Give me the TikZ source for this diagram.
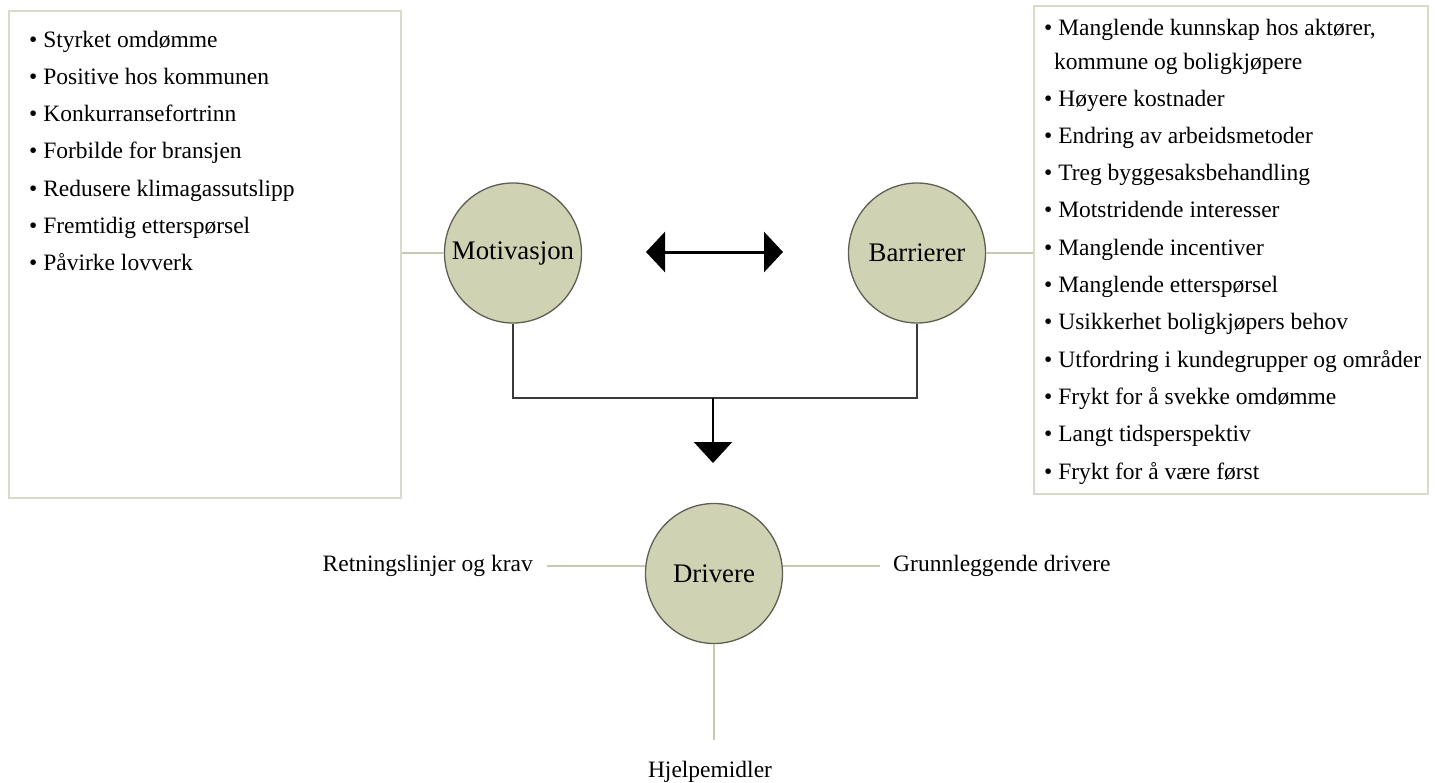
\documentclass[tikz,border=0pt]{standalone}
\usepackage{fontspec}
\setmainfont{Liberation Serif}
\usetikzlibrary{arrows.meta,shapes.geometric}
\definecolor{olivefill}{HTML}{D0D2B4}
\definecolor{olivedraw}{HTML}{5E5E52}
\definecolor{boxline}{HTML}{D9DBC8}
\definecolor{thinline}{HTML}{C6C9B2}
\definecolor{darkline}{HTML}{3A3A3A}

\begin{document}
\begin{tikzpicture}[x=1pt,y=-1pt,
  bubble/.style={ellipse, draw=olivedraw, fill=olivefill, line width=1.3pt,
    minimum width=137pt, minimum height=140pt, inner sep=0pt,
    font=\fontsize{26.8}{30}\selectfont},
  listbox/.style={draw=boxline, line width=2pt, fill=white, anchor=north west, inner sep=0pt},
  item/.style={anchor=base west, inner sep=0pt, font=\fontsize{23.5}{28}\selectfont},
  tag/.style={inner sep=0pt, font=\fontsize{23.5}{28}\selectfont},
  thin/.style={draw=thinline, line width=1.2pt},
  heavy/.style={draw=darkline, line width=2.2pt}
]
\useasboundingbox (0,0) rectangle (1435,782);

% list boxes
\node[listbox, minimum width=392pt, minimum height=487pt] (motbox) at (8,10) {};
\node[listbox, minimum width=394pt, minimum height=488pt] (barbox) at (1033,5) {};

% motivation items
\foreach \t [count=\i] in {Styrket omdømme, Positive hos kommunen, Konkurransefortrinn,
  Forbilde for bransjen, Redusere klimagassutslipp, Fremtidig etterspørsel, Påvirke lovverk}
  \node[item] (m\i) at (29, {47+37.3*(\i-1)}) {• \t};

% barrier items
\node[item] (b1) at (1044,35) {• Manglende kunnskap hos aktører,};
\node[item] (b1b) at (1054,69) {kommune og boligkjøpere};
\foreach \t [count=\i] in {Høyere kostnader, Endring av arbeidsmetoder, Treg byggesaksbehandling,
  Motstridende interesser, Manglende incentiver, Manglende etterspørsel,
  Usikkerhet boligkjøpers behov, Utfordring i kundegrupper og områder,
  Frykt for å svekke omdømme, Langt tidsperspektiv, Frykt for å være først}
  \node[item] (b\i x) at (1044, {106+37.3*(\i-1)}) {• \t};

% central bubbles
\node[bubble] (mot) at (513,253) {\makebox[0pt]{Motivasjon}};
\node[bubble] (bar) at (917,253) {\makebox[0pt]{Barrierer}};
\node[bubble] (drv) at (714,573.5) {\makebox[0pt]{Drivere}};

% links from bubbles to their lists
\draw[thin] (motbox.east |- mot.west) -- (mot.west);
\draw[thin] (bar.east) -- (barbox.west |- bar.east);

% two-way relation between motivation and barriers
\coordinate (al) at (646,252);
\coordinate (ar) at (783,252);
\draw[black, line width=3pt, {Triangle[width=40pt,length=19pt]}-{Triangle[width=40pt,length=19pt]}] (al) -- (ar);

% both lead down to the drivers
\coordinate (join) at (713,398);
\coordinate (tip) at (713,463);
\draw[heavy] (mot.south) |- (join) -| (bar.south);
\draw[black, line width=2.5pt, -{Triangle[width=38pt,length=21pt]}] (join) -- (tip);

% the three kinds of drivers
\node[tag, anchor=east, inner xsep=14pt] (retn) at (547,566) {Retningslinjer og krav};
\node[tag, anchor=west, inner xsep=13pt] (grunn) at (880,566) {Grunnleggende drivere};
\node[tag, anchor=base, inner ysep=21pt] (hjelp) at (710,777) {Hjelpemidler};
\draw[thin] (retn.east) -- (retn.east -| drv.west);
\draw[thin] (grunn.west -| drv.east) -- (grunn.west);
\draw[thin] (drv.south) -- (drv.south |- hjelp.north);
\end{tikzpicture}
\end{document}
